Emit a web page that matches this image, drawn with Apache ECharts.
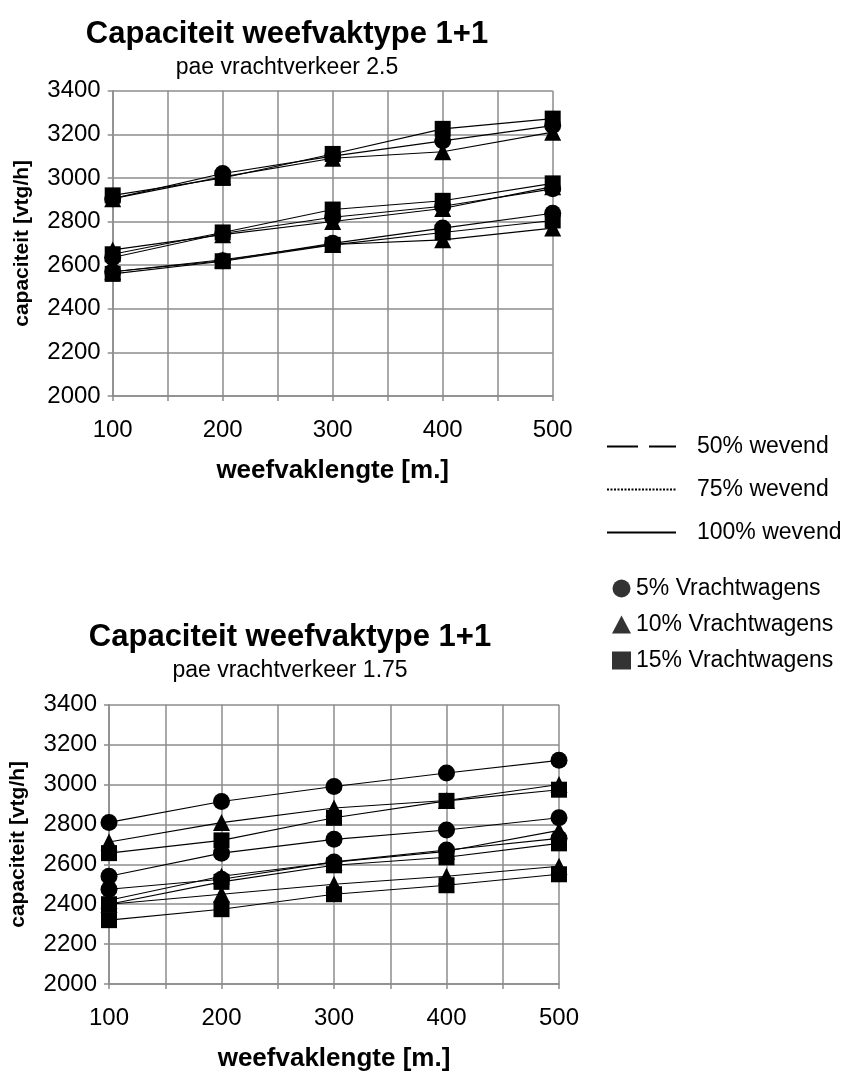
<!DOCTYPE html>
<html>
<head>
    <meta charset="utf-8">
    <title>Capaciteit weefvaktype 1+1</title>
    <script src="https://cdn.jsdelivr.net/npm/echarts@6/dist/echarts.min.js"></script>
</head>
<body style="margin:0;background:#fff;">
<div id="main" style="width:844px;height:1073px;"></div>
<script type="text/javascript">
    // weefvaklengte [m.]
    const lengths = [100, 200, 300, 400, 500];

    // pae vrachtverkeer 2.5 (bovenste grafiek)
    const a_w50_t5  = [2905, 3020, 3100, 3170, 3240];
    const a_w50_t10 = [2905, 3005, 3090, 3120, 3210];
    const a_w50_t15 = [2920, 3000, 3110, 3225, 3272];
    const a_w75_t5  = [2635, 2745, 2820, 2870, 2950];
    const a_w75_t10 = [2670, 2740, 2800, 2860, 2960];
    const a_w75_t15 = [2650, 2750, 2855, 2895, 2975];
    const a_w100_t5  = [2570, 2620, 2700, 2770, 2838];
    const a_w100_t10 = [2570, 2625, 2695, 2716, 2770];
    const a_w100_t15 = [2560, 2618, 2693, 2750, 2805];

    // pae vrachtverkeer 1.75 (onderste grafiek)
    const b_w50_t5  = [2810, 2915, 2990, 3058, 3121];
    const b_w50_t10 = [2712, 2809, 2882, 2920, 3000];
    const b_w50_t15 = [2656, 2720, 2833, 2918, 2974];
    const b_w75_t5  = [2540, 2656, 2725, 2772, 2833];
    const b_w75_t10 = [2420, 2540, 2610, 2665, 2770];
    const b_w75_t15 = [2400, 2512, 2595, 2635, 2705];
    const b_w100_t5  = [2475, 2525, 2612, 2672, 2730];
    const b_w100_t10 = [2400, 2450, 2500, 2540, 2590];
    const b_w100_t15 = [2320, 2375, 2450, 2495, 2550];

    const weaveNames = ['50% wevend', '75% wevend', '100% wevend'];
    const truckNames = ['5% Vrachtwagens', '10% Vrachtwagens', '15% Vrachtwagens'];
    const truckSymbols = ['circle', 'triangle', 'rect'];

    const topSets = [[a_w50_t5, a_w50_t10, a_w50_t15], [a_w75_t5, a_w75_t10, a_w75_t15], [a_w100_t5, a_w100_t10, a_w100_t15]];
    const botSets = [[b_w50_t5, b_w50_t10, b_w50_t15], [b_w75_t5, b_w75_t10, b_w75_t15], [b_w100_t5, b_w100_t10, b_w100_t15]];

    const FONT = '"Liberation Sans", Arial, sans-serif';
    const GRID_COLOR = '#8c8c8c';

    function makeSeries(sets, idx) {
        let out = [];
        sets.forEach(function (group, w) {
            group.forEach(function (vals, t) {
                out.push({
                    name: weaveNames[w] + ' ' + truckNames[t] + ' ' + idx,
                    type: 'line',
                    xAxisIndex: idx,
                    yAxisIndex: idx,
                    data: lengths.map(function (x, i) { return [x, vals[i]]; }),
                    symbol: truckSymbols[t],
                    symbolSize: truckSymbols[t] === 'rect' ? 16 : 17,
                    color: '#000',
                    lineStyle: { color: '#000', width: 1.1 },
                    itemStyle: { color: '#000' },
                    z: 3 + t
                });
            });
        });
        return out;
    }

    function xAxisFor(idx) {
        return {
            type: 'value',
            gridIndex: idx,
            min: 100,
            max: 500,
            interval: 50,
            name: 'weefvaklengte [m.]',
            nameLocation: 'middle',
            nameGap: 62,
            nameTextStyle: { fontFamily: FONT, fontSize: 26, fontWeight: 'bold', color: '#000' },
            axisLine: { lineStyle: { color: GRID_COLOR, width: 1.5 } },
            axisTick: { show: true, length: 5, lineStyle: { color: GRID_COLOR, width: 1.5 } },
            axisLabel: {
                fontFamily: FONT, fontSize: 24, color: '#000', margin: 22,
                formatter: function (v) { return v % 100 === 0 ? String(v) : ''; }
            },
            splitLine: { show: true, lineStyle: { color: GRID_COLOR, width: 1.5 } }
        };
    }

    function yAxisFor(idx) {
        return {
            type: 'value',
            gridIndex: idx,
            min: 2000,
            max: 3400,
            interval: 200,
            name: 'capaciteit [vtg/h]',
            nameLocation: 'middle',
            nameRotate: 90,
            nameGap: 80,
            nameTextStyle: { fontFamily: FONT, fontSize: 21, fontWeight: 'bold', color: '#000' },
            axisLine: { show: true, lineStyle: { color: GRID_COLOR, width: 1.5 } },
            axisTick: { show: true, length: 5, lineStyle: { color: GRID_COLOR, width: 1.5 } },
            axisLabel: {
                fontFamily: FONT, fontSize: 24, color: '#000', margin: 12,
                formatter: function (v) { return String(v); }
            },
            splitLine: { show: true, lineStyle: { color: GRID_COLOR, width: 1.5 } }
        };
    }

    // dummy series for the legend only
    const legendSeries = [
        { name: weaveNames[0], type: 'line', data: [], symbol: 'none', color: '#000', lineStyle: { color: '#000', width: 1, type: [31, 11] } },
        { name: weaveNames[1], type: 'line', data: [], symbol: 'none', color: '#000', lineStyle: { color: '#000', width: 1, type: [2, 1.5] } },
        { name: weaveNames[2], type: 'line', data: [], symbol: 'none', color: '#000', lineStyle: { color: '#000', width: 1, type: 'solid' } },
        { name: truckNames[0], type: 'scatter', data: [], symbol: 'circle', color: '#000' },
        { name: truckNames[1], type: 'scatter', data: [], symbol: 'triangle', color: '#000' },
        { name: truckNames[2], type: 'scatter', data: [], symbol: 'rect', color: '#000' }
    ];

    let myChart = echarts.init(document.getElementById('main'), null, { renderer: 'canvas' });

    myChart.setOption({
        animation: false,
        backgroundColor: '#fff',
        title: [
            {
                text: 'Capaciteit weefvaktype 1+1',
                subtext: 'pae vrachtverkeer 2.5',
                left: 282, textAlign: 'center', top: 14, itemGap: 6,
                textStyle: { fontFamily: FONT, fontSize: 31, fontWeight: 'bold', color: '#000' },
                subtextStyle: { fontFamily: FONT, fontSize: 23, color: '#000' }
            },
            {
                text: 'Capaciteit weefvaktype 1+1',
                subtext: 'pae vrachtverkeer 1.75',
                left: 285, textAlign: 'center', top: 617, itemGap: 6,
                textStyle: { fontFamily: FONT, fontSize: 31, fontWeight: 'bold', color: '#000' },
                subtextStyle: { fontFamily: FONT, fontSize: 23, color: '#000' }
            }
        ],
        legend: [
            {
                data: weaveNames,
                orient: 'vertical',
                left: 601, top: 430,
                itemWidth: 69, itemHeight: 14, itemGap: 20,
                selectedMode: false,
                itemStyle: { opacity: 0 },
                textStyle: { fontFamily: FONT, fontSize: 23, color: '#000', lineHeight: 23, padding: [0, 0, 0, 16] }
            },
            {
                data: [
                    { name: truckNames[0], icon: 'circle' },
                    { name: truckNames[1], icon: 'triangle' },
                    { name: truckNames[2], icon: 'rect' }
                ],
                orient: 'vertical',
                left: 607, top: 572,
                itemWidth: 19, itemHeight: 18, itemGap: 13,
                selectedMode: false,
                textStyle: { fontFamily: FONT, fontSize: 23, color: '#000', lineHeight: 23 }
            }
        ],
        grid: [
            { left: 112.7, top: 90.7, width: 440, height: 305.3 },
            { left: 108.3, top: 704.7, width: 450.7, height: 290.3 }
        ],
        xAxis: [xAxisFor(0), xAxisFor(1)],
        yAxis: [yAxisFor(0), yAxisFor(1)],
        series: makeSeries(topSets, 0).concat(makeSeries(botSets, 1)).concat(legendSeries)
    });
</script>
</body>
</html>
